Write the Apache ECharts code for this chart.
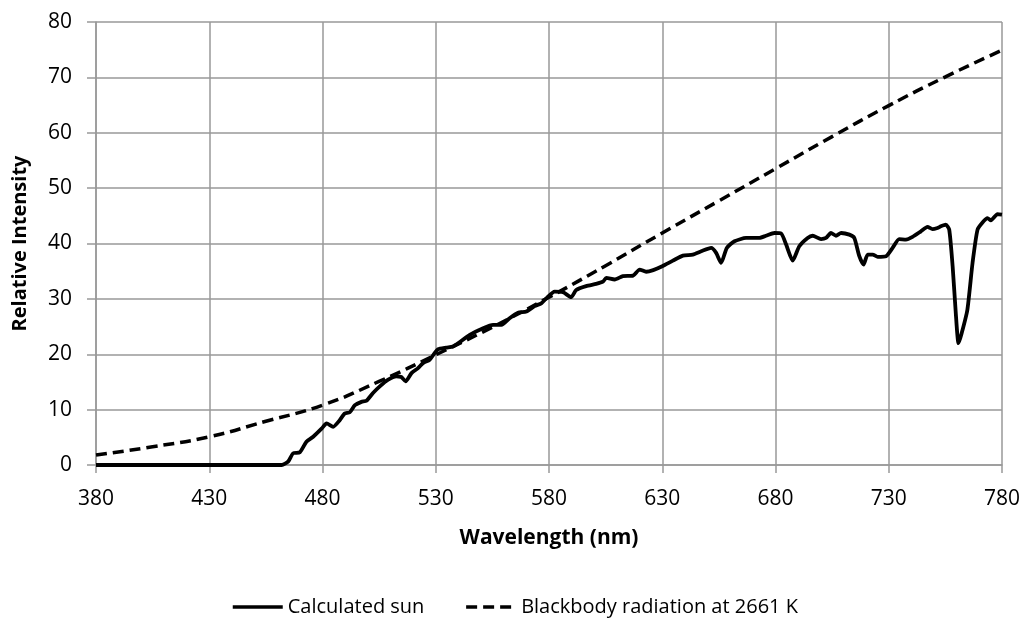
<!DOCTYPE html>
<html>
<head>
<meta charset="utf-8">
<script src="https://cdn.jsdelivr.net/npm/echarts@6/dist/echarts.min.js"></script>
<style>
html,body{margin:0;padding:0;background:#fff;}
#chart{width:1029px;height:628px;}
</style>
</head>
<body>
<div id="chart"></div>
<script>
var sunWavelength = [380,462,464.8,467,470,472.9,475.9,479.7,481.8,484.7,487.6,489.8,492,494.3,497.2,499.4,502.3,505.3,509,512.6,514.8,516.7,519.3,522.2,524.4,527.3,529.5,531,534.7,537.6,540,545,550.9,555.3,559,562.6,566.3,570,573.6,576.6,578.8,582.5,586.2,589.8,592,596.4,600.8,603.8,605.3,609,612.6,617.1,620,622.9,626,630,634.7,639.1,643.5,647.2,651.6,653.8,656,658.5,661.9,667,672.9,675.8,679.5,682.5,684.7,687.6,690.5,694.2,696.4,700.1,702.3,704.5,706.7,709,712.6,714.8,717,718.9,720.7,722.9,725.1,728.8,731.7,734.6,737.6,740.5,744.2,747.1,749.3,751.5,753,755.2,756.7,758.2,759.6,760.8,762.2,764.7,767,769.2,771.4,773.6,775.1,778,780];
var sunIntensity = [0,0,0.6,2.1,2.3,4.2,5.1,6.6,7.5,6.9,8.1,9.3,9.5,10.8,11.4,11.6,13.0,14.2,15.4,16.0,15.9,15.1,16.6,17.5,18.4,19.0,20.2,20.9,21.2,21.4,22.0,23.5,24.7,25.3,25.3,26.5,27.5,27.7,28.7,29.2,30.1,31.3,31.2,30.3,31.6,32.3,32.7,33.1,33.8,33.5,34.1,34.2,35.3,34.9,35.2,35.9,36.9,37.8,38.0,38.6,39.2,38.3,36.5,39.2,40.4,41.0,41.0,41.4,41.9,41.8,39.8,36.9,39.5,41.0,41.4,40.8,41.0,41.9,41.4,41.9,41.6,41.0,37.7,36.2,38.0,38.0,37.6,37.7,39.2,40.8,40.7,41.2,42.2,43.0,42.6,42.8,43.1,43.4,42.5,35.9,27.4,22.0,23.8,28.0,36.5,42.5,43.8,44.6,44.2,45.3,45.2];
var bbWavelength = [380,405,430,455,480,505,530,555,580,605,630,655,680,705,730,755,780];
var bbIntensity = [1.8,3.3,5.1,7.9,10.8,15.1,19.9,24.9,30.3,36.0,41.9,47.7,53.5,59.3,64.9,70.1,74.9];
var seriesNames = ['Calculated sun','Blackbody radiation at 2661 K'];
var xTitle = 'Wavelength (nm)';
var yTitle = 'Relative Intensity';

function pairs(xs, ys){ return xs.map(function(x,i){ return [x, ys[i]]; }); }

var FONT = 'Open Sans';
var chart = echarts.init(document.getElementById('chart'), null, {renderer:'canvas'});
chart.setOption({
  animation:false,
  backgroundColor:'#fff',
  textStyle:{fontFamily:FONT},
  grid:{left:96,right:27,top:22,bottom:163,containLabel:false},
  legend:{
    bottom:6,left:'center',
    itemWidth:50,itemHeight:14,itemGap:40,
    itemStyle:{opacity:0},
    lineStyle:{width:3.5},
    textStyle:{fontFamily:FONT,fontSize:20,color:'#000'},
    data:seriesNames
  },
  xAxis:{
    type:'value',min:380,max:780,interval:50,
    name:xTitle,nameLocation:'middle',nameGap:63,
    nameTextStyle:{fontFamily:FONT,fontSize:21,fontWeight:'bold',color:'#000'},
    axisLine:{show:true,lineStyle:{color:'#999',width:1.5}},
    axisTick:{show:true,length:8,lineStyle:{color:'#999',width:1.5}},
    axisLabel:{margin:24,fontSize:21,color:'#000',fontFamily:FONT},
    splitLine:{show:true,lineStyle:{color:'#999',width:1.5}}
  },
  yAxis:{
    type:'value',min:0,max:80,interval:10,
    name:yTitle,nameLocation:'middle',nameGap:66,nameRotate:90,
    nameTextStyle:{fontFamily:FONT,fontSize:20,fontWeight:'bold',color:'#000'},
    axisLine:{show:true,lineStyle:{color:'#999',width:1.5}},
    axisTick:{show:true,length:9,lineStyle:{color:'#999',width:1.5}},
    axisLabel:{margin:24,fontSize:21,color:'#000',fontFamily:FONT},
    splitLine:{show:true,lineStyle:{color:'#999',width:1.5}}
  },
  series:[
    {name:seriesNames[0],type:'line',data:pairs(sunWavelength,sunIntensity),
     symbol:'none',smooth:0.2,lineStyle:{color:'#000',width:3.8},itemStyle:{color:'#000'},z:3},
    {name:seriesNames[1],type:'line',data:pairs(bbWavelength,bbIntensity),
     symbol:'none',smooth:true,lineStyle:{color:'#000',width:3.5,type:[11,6]},itemStyle:{color:'#000'},z:2}
  ]
});
</script>
</body>
</html>
